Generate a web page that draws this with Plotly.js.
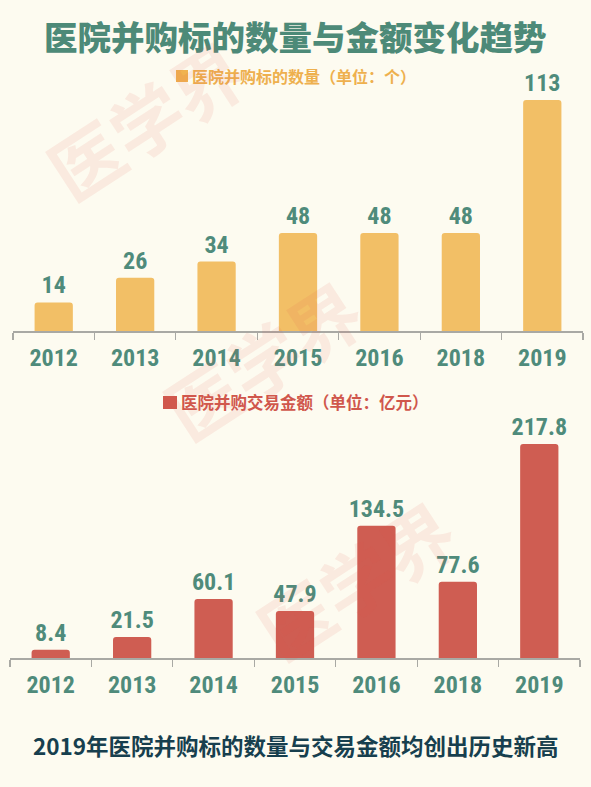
<!DOCTYPE html>
<html><head><meta charset="utf-8">
<script src="https://cdn.plot.ly/plotly-3.0.1.min.js"></script>
<style>html,body{margin:0;padding:0;background:#fdfbf0;}</style>
</head><body><div id="chart" style="width:591px;height:787px;"></div>
<script>
const years = ['2012','2013','2014','2015','2016','2018','2019'];
const dealCounts = [14, 26, 34, 48, 48, 48, 113];
const dealAmounts = [8.4, 21.5, 60.1, 47.9, 134.5, 77.6, 217.8];
const titleText = '医院并购标的数量与金额变化趋势';
const legendCount = '医院并购标的数量（单位：个）';
const legendAmount = '医院并购交易金额（单位：亿元）';
const footText = '2019年医院并购标的数量与交易金额均创出历史新高';
const watermark = '医学界';

const W = 591, H = 787;
const px = x => x / W;
const py = y => 1 - y / H;

const numFont = {family: 'Roboto Condensed, Liberation Sans Narrow, DejaVu Sans Condensed, sans-serif', size: 24, color: '#4f8b7b', weight: 'bold'};
const cjk = 'Noto Sans CJK SC, sans-serif';

const traces = [
  {type: 'bar', x: years, y: dealCounts, xaxis: 'x', yaxis: 'y', width: 0.47,
   marker: {color: '#f2bf66', cornerradius: 3},
   text: dealCounts.map(String), textposition: 'outside', cliponaxis: false, constraintext: 'none',
   textfont: numFont, hoverinfo: 'skip'},
  {type: 'bar', x: years, y: dealAmounts, xaxis: 'x2', yaxis: 'y2', width: 0.47,
   marker: {color: '#cf5d52', cornerradius: 3},
   text: dealAmounts.map(v => v.toFixed(1)), textposition: 'outside', cliponaxis: false, constraintext: 'none',
   textfont: numFont, hoverinfo: 'skip'}
];

const xCommon = {type: 'category', showgrid: false, zeroline: false, showline: true, linecolor: '#a9a9a4', linewidth: 1.5,
  ticks: 'outside', tickson: 'boundaries', ticklen: 7, tickcolor: '#a9a9a4', tickwidth: 1.2,
  tickfont: numFont, ticklabelstandoff: 5, fixedrange: true};
const yCommon = {visible: false, showgrid: false, zeroline: false, fixedrange: true};

const wm = (x, y) => ({text: watermark, x: px(x), y: py(y), xref: 'paper', yref: 'paper', showarrow: false,
  xanchor: 'center', yanchor: 'middle', textangle: -33,
  font: {family: cjk, size: 72, color: 'rgba(225,90,75,0.10)', weight: 'bold'}});

const layout = {
  width: W, height: H, margin: {l: 0, r: 0, t: 0, b: 0},
  paper_bgcolor: '#fdfbf0', plot_bgcolor: 'rgba(0,0,0,0)', showlegend: false,
  xaxis: Object.assign({}, xCommon, {domain: [px(13), px(583)], anchor: 'y'}),
  yaxis: Object.assign({}, yCommon, {domain: [py(331), py(100)], range: [0, 113]}),
  xaxis2: Object.assign({}, xCommon, {domain: [px(10), px(580)], anchor: 'y2'}),
  yaxis2: Object.assign({}, yCommon, {domain: [py(658), py(444)], range: [0, 217.8]}),
  shapes: [
    {type: 'rect', xref: 'paper', yref: 'paper', x0: px(176), x1: px(188), y0: py(82), y1: py(70), fillcolor: '#f0b24f', line: {width: 0}},
    {type: 'rect', xref: 'paper', yref: 'paper', x0: px(163), x1: px(177), y0: py(409), y1: py(396), fillcolor: '#d0574c', line: {width: 0}}
  ],
  annotations: [
    {text: titleText, x: 0.5, y: py(35), xref: 'paper', yref: 'paper', xanchor: 'center', yanchor: 'middle', showarrow: false,
     font: {family: cjk, size: 33.5, color: '#4d8a78', weight: 900}},
    {text: legendCount, x: px(190), y: py(76), xref: 'paper', yref: 'paper', xanchor: 'left', yanchor: 'middle', showarrow: false,
     font: {family: cjk, size: 16, color: '#eeb04e', weight: 'bold'}},
    {text: legendAmount, x: px(179), y: py(402), xref: 'paper', yref: 'paper', xanchor: 'left', yanchor: 'middle', showarrow: false,
     font: {family: cjk, size: 16.5, color: '#d0574c', weight: 'bold'}},
    {text: footText, x: 0.5, y: py(745), xref: 'paper', yref: 'paper', xanchor: 'center', yanchor: 'middle', showarrow: false,
     font: {family: cjk, size: 22.5, color: '#173f4e', weight: 'bold'}},
    wm(145, 118), wm(262, 358), wm(355, 578)
  ]
};

Plotly.newPlot('chart', traces, layout, {displayModeBar: false, staticPlot: true});
</script></body></html>
